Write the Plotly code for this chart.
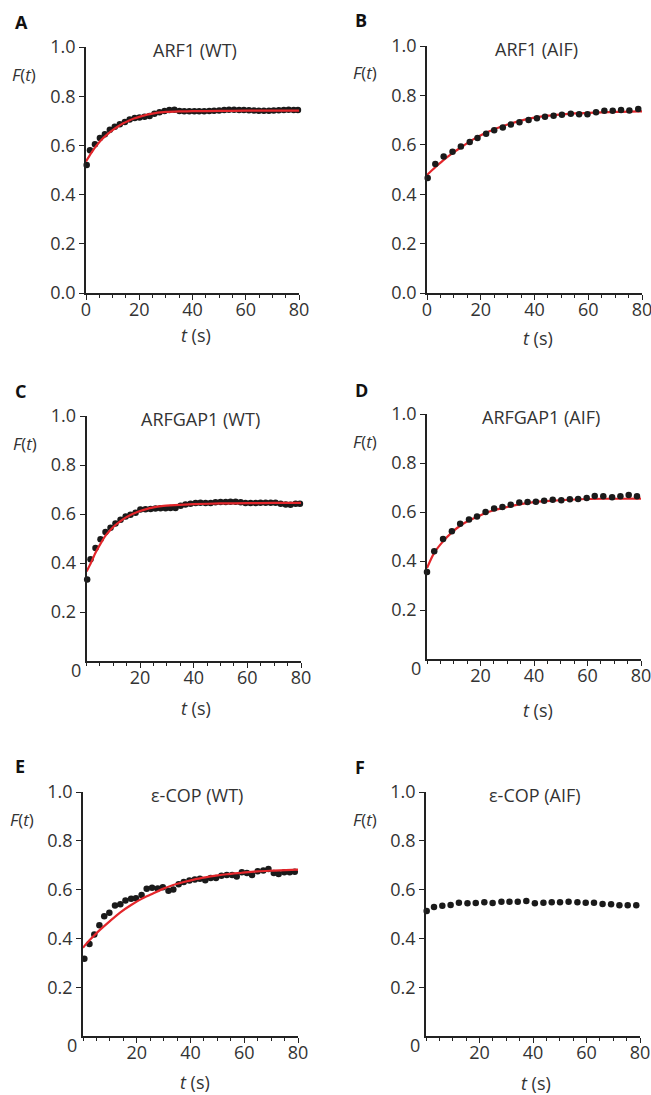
import plotly.graph_objects as go

# ---------------- data ----------------
panel_letters = ["A", "B", "C", "D", "E", "F"]
panel_titles = ["ARF1 (WT)", "ARF1 (AIF)", "ARFGAP1 (WT)", "ARFGAP1 (AIF)", "ε-COP (WT)", "ε-COP (AIF)"]

t_A = [0.25, 1.49, 3.36, 5.22, 7.09, 8.96, 10.8, 12.7, 14.6, 16.4, 18.3, 20.1, 22.0, 23.9, 25.7,
       27.6, 29.5, 31.3, 33.2, 35.1, 36.9, 38.8, 40.7, 42.5, 44.4, 46.3, 48.1, 50.0, 51.9, 53.7,
       55.6, 57.5, 59.3, 61.2, 63.1, 64.9, 66.8, 68.7, 70.5, 72.4, 74.3, 76.1, 78.0, 79.6]
F_A = [0.52, 0.58, 0.605, 0.63, 0.645, 0.664, 0.676, 0.686, 0.695, 0.705, 0.711, 0.713, 0.716, 0.72,
       0.729, 0.735, 0.74, 0.744, 0.745, 0.74, 0.739, 0.739, 0.739, 0.739, 0.739, 0.74, 0.741, 0.742,
       0.744, 0.745, 0.745, 0.744, 0.744, 0.743, 0.742, 0.741, 0.741, 0.741, 0.742, 0.743, 0.744,
       0.745, 0.744, 0.744]
fit_t_A = [0, 2, 4, 6, 8, 10, 12, 14, 16, 18, 20, 22, 24, 26, 28, 30, 35, 40, 50, 60, 70, 80]
fit_A = [0.535, 0.57, 0.60, 0.625, 0.645, 0.662, 0.677, 0.69, 0.70, 0.709, 0.716, 0.722, 0.727,
         0.731, 0.734, 0.736, 0.738, 0.739, 0.740, 0.741, 0.741, 0.741]

t_B = [0.25, 3.1, 6.2, 9.5, 12.6, 15.9, 18.8, 22.0, 25.0, 28.2, 31.2, 34.4, 37.8, 40.9, 43.9,
       47.1, 50.2, 53.5, 56.6, 59.7, 62.9, 66.0, 69.1, 72.2, 75.3, 78.6]
F_B = [0.466, 0.522, 0.553, 0.572, 0.593, 0.611, 0.628, 0.645, 0.659, 0.670, 0.682, 0.691, 0.700,
       0.707, 0.714, 0.718, 0.722, 0.726, 0.724, 0.724, 0.732, 0.738, 0.738, 0.741, 0.739, 0.745]
fit_t_B = [0, 3, 6, 9, 12, 15, 18, 21, 24, 27, 30, 35, 40, 45, 50, 55, 60, 65, 70, 75, 80]
fit_B = [0.478, 0.508, 0.537, 0.562, 0.585, 0.607, 0.627, 0.644, 0.658, 0.671, 0.682, 0.698, 0.710,
         0.718, 0.723, 0.727, 0.729, 0.731, 0.733, 0.734, 0.735]

t_C = [0.25, 1.49, 3.36, 5.22, 7.09, 8.96, 10.8, 12.7, 14.6, 16.4, 18.3, 20.1, 22.0, 23.9, 25.7,
       27.6, 29.5, 31.3, 33.2, 35.1, 36.9, 38.8, 40.7, 42.5, 44.4, 46.3, 48.1, 50.0, 51.9, 53.7,
       55.6, 57.5, 59.3, 61.2, 63.1, 64.9, 66.8, 68.7, 70.5, 72.4, 74.3, 76.1, 78.0, 79.6]
F_C = [0.333, 0.415, 0.461, 0.497, 0.527, 0.544, 0.561, 0.577, 0.590, 0.597, 0.605, 0.618, 0.619,
       0.620, 0.622, 0.623, 0.623, 0.624, 0.624, 0.634, 0.639, 0.642, 0.645, 0.646, 0.645, 0.645,
       0.648, 0.649, 0.649, 0.650, 0.650, 0.648, 0.645, 0.645, 0.645, 0.646, 0.646, 0.646, 0.646,
       0.642, 0.639, 0.638, 0.642, 0.642]
fit_t_C = [0, 1.5, 3.4, 5.2, 7.1, 9, 10.8, 12.7, 14.6, 16.4, 18.3, 20, 22, 25, 28, 33, 40, 50, 60, 70, 80]
fit_C = [0.365, 0.397, 0.443, 0.478, 0.512, 0.536, 0.555, 0.571, 0.585, 0.596, 0.605, 0.612, 0.619,
         0.627, 0.632, 0.636, 0.640, 0.643, 0.644, 0.645, 0.645]

t_D = [0, 2.7, 6.0, 9.3, 12.4, 15.7, 18.7, 21.9, 25.1, 28.2, 31.3, 34.5, 37.6, 40.7, 43.8, 47.0,
       50.2, 53.4, 56.5, 59.7, 62.7, 65.9, 69.2, 72.3, 75.4, 78.5]
F_D = [0.355, 0.44, 0.49, 0.521, 0.552, 0.569, 0.582, 0.600, 0.614, 0.620, 0.630, 0.639, 0.641,
       0.642, 0.646, 0.650, 0.648, 0.652, 0.653, 0.657, 0.665, 0.664, 0.660, 0.664, 0.669, 0.664]
fit_t_D = [0, 2.7, 6, 9.3, 12.4, 15.7, 18.7, 21.9, 25, 28.2, 31.3, 34.5, 40.7, 47, 53.4, 59.7, 65.9, 72.3, 80]
fit_D = [0.371, 0.433, 0.48, 0.517, 0.544, 0.565, 0.58, 0.596, 0.607, 0.616, 0.624, 0.631, 0.641,
         0.646, 0.65, 0.653, 0.654, 0.654, 0.655]

t_E = [0.5, 2.4, 4.2, 6.1, 7.9, 9.8, 11.9, 13.9, 15.8, 17.9, 19.7, 21.8, 23.7, 25.7, 27.8, 29.7,
       31.8, 33.6, 35.6, 37.5, 39.6, 41.6, 43.5, 45.5, 47.5, 49.5, 51.5, 53.5, 55.5, 57.2, 59.1,
       61.0, 62.9, 65.0, 67.1, 69.0, 71.0, 72.8, 74.9, 76.9, 78.8]
F_E = [0.317, 0.377, 0.416, 0.454, 0.491, 0.505, 0.535, 0.540, 0.555, 0.563, 0.565, 0.578, 0.603,
       0.608, 0.604, 0.610, 0.595, 0.600, 0.622, 0.631, 0.637, 0.641, 0.644, 0.638, 0.648, 0.648,
       0.657, 0.660, 0.660, 0.654, 0.671, 0.668, 0.660, 0.675, 0.678, 0.684, 0.668, 0.664, 0.671,
       0.671, 0.673]
fit_t_E = [0, 2.4, 6.1, 9.8, 13.9, 17.9, 21.8, 25.7, 29.7, 33.6, 37.5, 41.6, 45.5, 49.5, 53.5, 59.1, 65, 71, 80]
fit_E = [0.362, 0.392, 0.433, 0.469, 0.507, 0.537, 0.562, 0.582, 0.603, 0.619, 0.631, 0.642, 0.65,
         0.657, 0.663, 0.669, 0.675, 0.678, 0.682]

t_F = [0.25, 3.0, 6.1, 9.2, 12.3, 15.5, 18.6, 21.8, 24.9, 28.2, 31.2, 34.3, 37.5, 40.7, 43.9,
       47.0, 50.1, 53.3, 56.6, 59.7, 62.8, 66.0, 69.2, 72.3, 75.4, 78.6]
F_F = [0.512, 0.529, 0.534, 0.537, 0.546, 0.544, 0.545, 0.548, 0.545, 0.550, 0.550, 0.550, 0.553,
       0.544, 0.546, 0.548, 0.548, 0.550, 0.548, 0.546, 0.546, 0.541, 0.540, 0.536, 0.536, 0.536]

x_ticks = [0, 20, 40, 60, 80]
y_ticks = [0, 0.2, 0.4, 0.6, 0.8, 1.0]

# ---------------- layout geometry (pixels) ----------------
W, H = 651, 1095
# (x_left, x_right, y_top(1.0), y_bottom(0)) in pixels
boxes = [(86, 299, 47, 293), (427, 642, 46, 293),
         (86.5, 301, 416, 661), (427, 641, 414, 659),
         (83, 298, 792, 1036), (426, 640, 792, 1036)]
title_cx = [195, 536, 200, 541, 196.5, 535]
ylab_cx = [23.5, 364.5, 24.5, 364.5, 22, 364.5]
letter_pos = [(13, 21.5), (353, 20), (13, 391), (353, 390), (13, 766), (353, 767)]
xlab_pos = [(196, 335), (538, 338), (196, 708), (538, 710), (195, 1082), (536, 1083)]

AX = "#222222"
TXT = "#333333"
RED = "#e3262b"
DOT = "#1a1a1a"
FONT = "Open Sans"

series = [(t_A, F_A, fit_t_A, fit_A), (t_B, F_B, fit_t_B, fit_B), (t_C, F_C, fit_t_C, fit_C),
          (t_D, F_D, fit_t_D, fit_D), (t_E, F_E, fit_t_E, fit_E), (t_F, F_F, None, None)]
line_on_top = [True, False, True, False, True, False]

fig = go.Figure()
annotations = []
layout = {}

for i, (tx, fy, ft, fv) in enumerate(series):
    n = "" if i == 0 else str(i + 1)
    xa, ya = "x" + n, "y" + n
    xl, xr, yt, yb = boxes[i]
    dots = go.Scatter(x=tx, y=fy, xaxis=xa, yaxis=ya, mode="markers",
                      marker=dict(size=6.5, color=DOT), cliponaxis=False, showlegend=False)
    traces = [dots]
    if ft is not None:
        fitline = go.Scatter(x=ft, y=fv, xaxis=xa, yaxis=ya, mode="lines",
                             line=dict(color=RED, width=2.2, shape="spline", smoothing=0.8),
                             cliponaxis=False, showlegend=False)
        traces = [dots, fitline] if line_on_top[i] else [fitline, dots]
    for tr in traces:
        fig.add_trace(tr)

    top_row = i < 2
    xvals = x_ticks if top_row else x_ticks[1:]
    yvals = y_ticks if top_row else y_ticks[1:]
    ytext = ["0.0" if v == 0 else f"{v:.1f}" for v in yvals]

    layout["xaxis" + n] = dict(
        domain=[xl / W, xr / W], anchor=ya, range=[0, 80], automargin=False,
        ticklabeloverflow="allow", ticklabelstandoff=-5,
        showline=True, linecolor=AX, linewidth=1.6, showgrid=False, zeroline=False,
        ticks="outside", ticklen=5, tickwidth=1.2, tickcolor=AX,
        tickvals=xvals, ticktext=[str(v) for v in xvals],
        tickfont=dict(family=FONT, size=18, color=TXT),
        minor=dict(dtick=5, tick0=0, ticks="outside", ticklen=3, tickwidth=1, tickcolor=AX),
        fixedrange=True)
    layout["yaxis" + n] = dict(
        domain=[1 - yb / H, 1 - yt / H], anchor=xa, range=[0, 1.0], automargin=False,
        ticklabeloverflow="allow",
        showline=True, linecolor=AX, linewidth=1.6, showgrid=False, zeroline=False,
        ticks="outside", ticklen=5, tickwidth=1.2, tickcolor=AX,
        tickvals=yvals, ticktext=ytext,
        tickfont=dict(family=FONT, size=18, color=TXT), fixedrange=True)

    # panel title
    annotations.append(dict(x=title_cx[i] / W, y=1 - (yt + 3) / H, xref="paper", yref="paper",
                            text=panel_titles[i], showarrow=False, xanchor="center", yanchor="middle",
                            font=dict(family=FONT, size=18, color=TXT)))
    # F(t) label
    annotations.append(dict(x=ylab_cx[i] / W, y=1 - (yt + 27) / H, xref="paper", yref="paper",
                            text="<i>F</i>(<i>t</i>)", showarrow=False, xanchor="center", yanchor="middle",
                            font=dict(family=FONT, size=17, color=TXT)))
    # t (s) label
    annotations.append(dict(x=xlab_pos[i][0] / W, y=1 - xlab_pos[i][1] / H, xref="paper", yref="paper",
                            text="<i>t</i> (s)", showarrow=False, xanchor="center", yanchor="middle",
                            font=dict(family=FONT, size=18, color=TXT)))
    # panel letter
    annotations.append(dict(x=letter_pos[i][0] / W, y=1 - letter_pos[i][1] / H, xref="paper", yref="paper",
                            text="<b>" + panel_letters[i] + "</b>", showarrow=False, xanchor="left",
                            yanchor="middle", font=dict(family=FONT, size=18, color="#111111")))
    # separate "0" origin label on the lower panels
    if not top_row:
        annotations.append(dict(x=(xl - 4) / W, y=1 - (yb + 9) / H, xref="paper", yref="paper",
                                text="0", showarrow=False, xanchor="right", yanchor="middle",
                                font=dict(family=FONT, size=18, color=TXT)))

fig.update_layout(width=W, height=H, autosize=False,
                  margin=dict(l=0, r=0, t=0, b=0, pad=0),
                  paper_bgcolor="white", plot_bgcolor="white",
                  annotations=annotations, **layout)

fig.write_html("out.html", config={"displayModeBar": False},
               post_script="document.body.style.margin='0';document.body.style.padding='0';"
                           "document.documentElement.style.overflow='hidden';")
